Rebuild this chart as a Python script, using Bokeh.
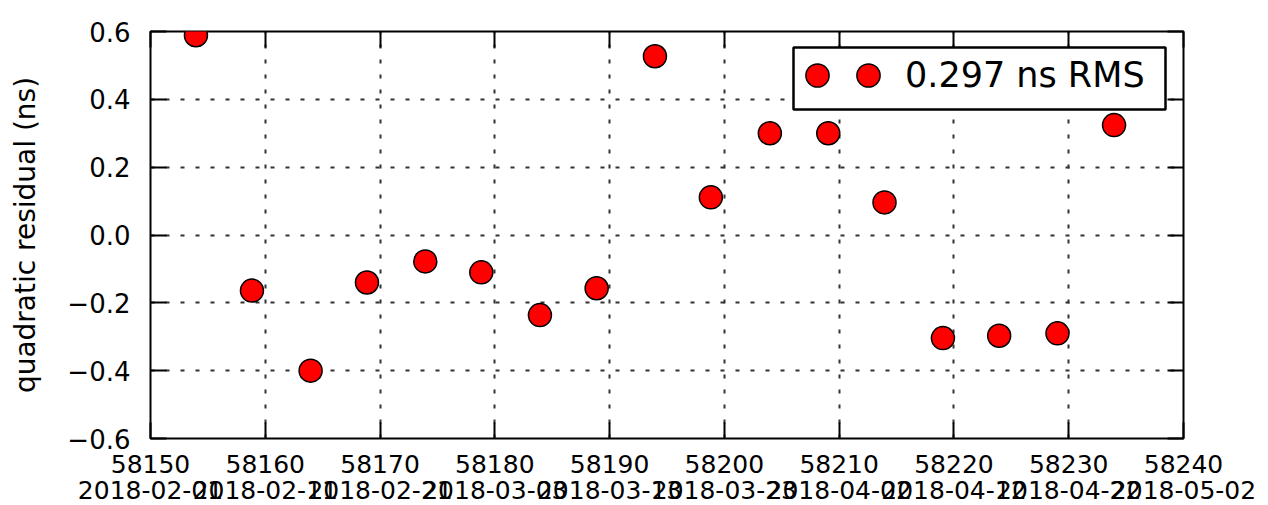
from bokeh.plotting import figure
from bokeh.models import (Range1d, LinearAxis, FixedTicker, CustomJSTickFormatter,
                          Grid, Legend, LegendItem, BoxAnnotation)
from bokeh.embed import file_html
from bokeh.resources import INLINE

# ---- data ----
mjd = [58153.96, 58158.84, 58163.95, 58168.86, 58173.94, 58178.82, 58183.93,
       58188.87, 58193.95, 58198.82, 58203.96, 58209.05, 58213.95, 58219.04,
       58223.94, 58229.02, 58233.95]
residual_ns = [0.589, -0.164, -0.400, -0.140, -0.078, -0.110, -0.236,
               -0.157, 0.527, 0.111, 0.300, 0.300, 0.096, -0.304,
               -0.297, -0.290, 0.324]

x_ticks = [58150, 58160, 58170, 58180, 58190, 58200, 58210, 58220, 58230, 58240]
x_tick_labels = ["58150", "58160", "58170", "58180", "58190", "58200",
                 "58210", "58220", "58230", "58240"]
x_date_labels = ["2018-02-01", "2018-02-11", "2018-02-21", "2018-03-03",
                 "2018-03-13", "2018-03-23", "2018-04-02", "2018-04-12",
                 "2018-04-22", "2018-05-02"]
y_ticks = [-0.6, -0.4, -0.2, 0.0, 0.2, 0.4, 0.6]
y_tick_labels = ["\u22120.6", "\u22120.4", "\u22120.2", "0.0", "0.2", "0.4", "0.6"]
y_label = "quadratic residual (ns)"
legend_label = "0.297 ns RMS"

FONT = "DejaVu Sans"


def lookup_formatter(tvals, tlabels):
    return CustomJSTickFormatter(args=dict(tvals=tvals, tlabels=tlabels), code="""
        for (let i = 0; i < tvals.length; i++) {
            if (Math.abs(tvals[i] - tick) < 1e-6) { return tlabels[i]; }
        }
        return "";
    """)


empty_formatter = CustomJSTickFormatter(code="return '';")

p = figure(width=1268, height=505, output_backend="svg", toolbar_location=None,
           tools="", x_range=Range1d(58150, 58240), y_range=Range1d(-0.6, 0.6),
           x_axis_type=None, y_axis_type=None,
           min_border_left=150, min_border_right=85,
           min_border_top=31, min_border_bottom=67)
p.background_fill_color = "white"
p.border_fill_color = "white"
p.outline_line_color = "black"
p.outline_line_width = 2

xt = FixedTicker(ticks=x_ticks)
yt = FixedTicker(ticks=y_ticks)


def base_axis(ax, tick_in):
    ax.major_tick_in = tick_in
    ax.major_tick_out = 0
    ax.minor_tick_in = 0
    ax.minor_tick_out = 0
    ax.major_tick_line_color = "black"
    ax.major_tick_line_width = 2
    ax.axis_line_color = None
    ax.major_label_text_font = FONT
    ax.major_label_text_color = "black"
    return ax


# bottom: numbers
ax_b = base_axis(LinearAxis(ticker=xt, formatter=lookup_formatter(x_ticks, x_tick_labels)), 16)
ax_b.major_label_text_font_size = "25px"
ax_b.major_label_standoff = 16
p.add_layout(ax_b, "below")

# bottom: dates
ax_d = base_axis(LinearAxis(ticker=xt, formatter=lookup_formatter(x_ticks, x_date_labels)), 0)
ax_d.major_tick_line_color = None
ax_d.major_label_text_font_size = "25px"
ax_d.major_label_standoff = 5
p.add_layout(ax_d, "below")

# left
ax_l = base_axis(LinearAxis(ticker=yt, formatter=lookup_formatter(y_ticks, y_tick_labels)), 16)
ax_l.major_label_text_font_size = "26px"
ax_l.major_label_standoff = 20
ax_l.axis_label = y_label
ax_l.axis_label_text_font = FONT
ax_l.axis_label_text_font_size = "28px"
ax_l.axis_label_text_font_style = "normal"
ax_l.axis_label_text_color = "black"
ax_l.axis_label_standoff = 22
p.add_layout(ax_l, "left")

# top and right: ticks only
ax_t = base_axis(LinearAxis(ticker=xt, formatter=empty_formatter), 16)
ax_t.major_label_standoff = 0
ax_t.major_label_text_font_size = "10px"
p.add_layout(ax_t, "above")

ax_r = base_axis(LinearAxis(ticker=yt, formatter=empty_formatter), 16)
ax_r.major_label_standoff = 0
ax_r.major_label_text_font_size = "10px"
p.add_layout(ax_r, "right")

for dim, tk in ((0, xt), (1, yt)):
    p.add_layout(Grid(dimension=dim, ticker=tk, grid_line_color="#333333",
                      grid_line_dash="4 11", grid_line_width=2))

r = p.scatter(mjd, residual_ns, size=23, fill_color="red", line_color="black",
              line_width=1.5)

# legend frame (screen units, measured from the frame's bottom-left corner)
legend_box = BoxAnnotation(left=643, right=1015, bottom=329, top=391,
                           left_units="screen", right_units="screen",
                           bottom_units="screen", top_units="screen",
                           fill_color="white", fill_alpha=1.0,
                           line_color="black", line_alpha=1.0, line_width=2.5)
p.add_layout(legend_box)

common = dict(orientation="horizontal", margin=0, padding=0,
              glyph_width=58, glyph_height=58, spacing=0,
              label_standoff=8, label_width=0,
              label_text_font=FONT, label_text_font_size="35px",
              label_text_color="black",
              border_line_color=None, background_fill_alpha=0)

legend_first = Legend(items=[LegendItem(label=" ", renderers=[r])],
                      location=(638, 334), **common)
legend_main = Legend(items=[LegendItem(label=legend_label, renderers=[r])],
                     location=(689, 334), **common)
p.add_layout(legend_first)
p.add_layout(legend_main)

open("out.html", "w").write(file_html(p, INLINE))
